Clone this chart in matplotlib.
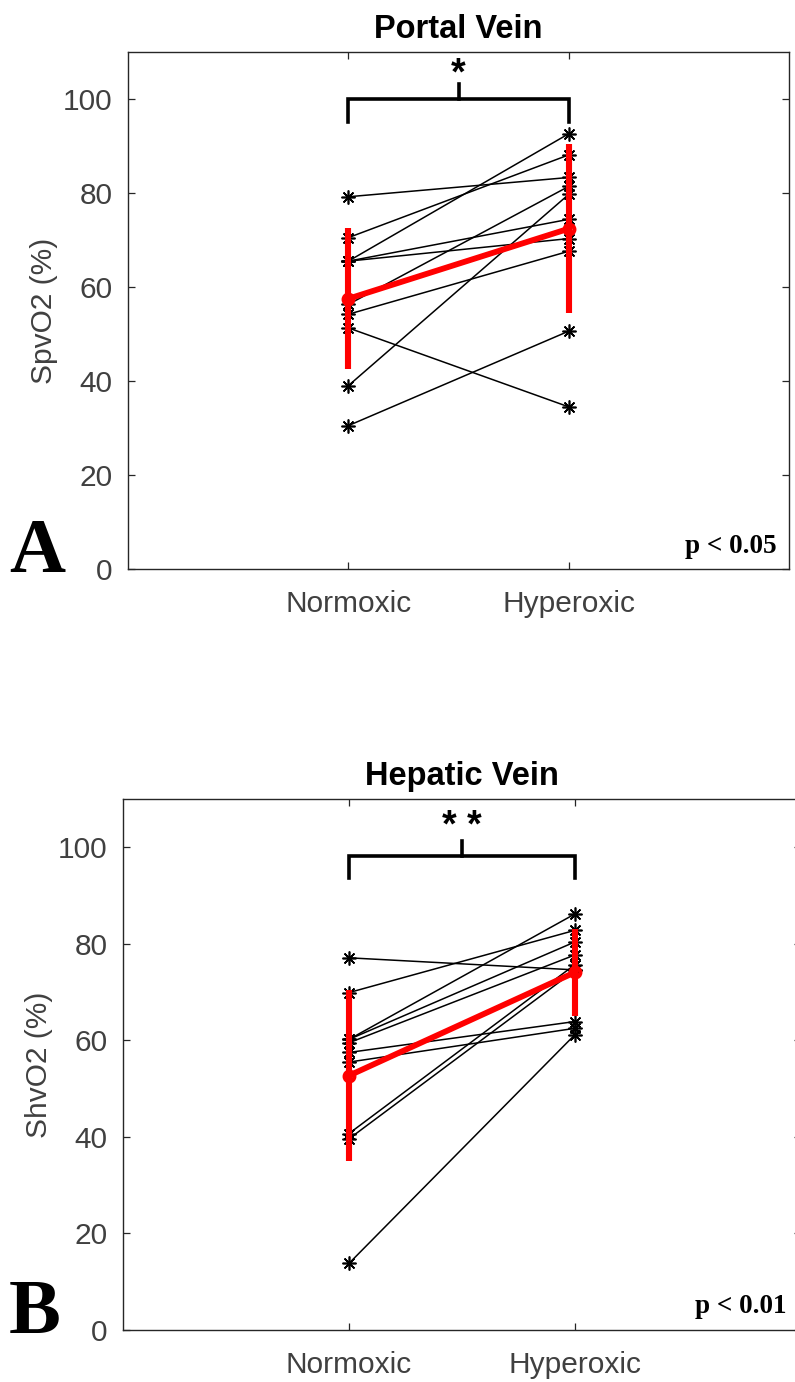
import matplotlib
matplotlib.use("Agg")
import matplotlib.pyplot as plt
import numpy as np

conditions = ["Normoxic", "Hyperoxic"]
yticks = [0, 20, 40, 60, 80, 100]

# Panel A: portal vein SpvO2 (%), per subject
portal_normoxic = [79.2, 70.5, 65.5, 65.5, 65.5, 56.3, 54.2, 51.3, 39.0, 30.5]
portal_hyperoxic = [83.3, 88.1, 92.6, 74.4, 70.3, 81.4, 67.6, 34.5, 79.7, 50.6]
portal_mean = [57.5, 72.4]
portal_sd = [15.0, 18.0]

# Panel B: hepatic vein ShvO2 (%), per subject
hepatic_normoxic = [77.1, 69.9, 60.2, 60.2, 59.5, 57.5, 55.5, 40.7, 39.6, 13.8]
hepatic_hyperoxic = [74.6, 82.8, 86.2, 80.4, 77.7, 63.9, 62.5, 75.7, 74.5, 61.2]
hepatic_mean = [52.7, 74.1]
hepatic_sd = [17.7, 9.0]

panels = [
    dict(title="Portal Vein", ylabel="SpvO2 (%)", n=portal_normoxic, h=portal_hyperoxic,
         mean=portal_mean, sd=portal_sd, letter="A", ptext="p < 0.05", star="*",
         bracket=(100, 95.2, 103.2), star_y=101.3,
         letter_x=-0.18, ylab_x=-0.106, p_x=0.982, p_y=0.031,
         rect=[128/795, 1 - 569/1382, 661/795, 517/1382]),
    dict(title="Hepatic Vein", ylabel="ShvO2 (%)", n=hepatic_normoxic, h=hepatic_hyperoxic,
         mean=hepatic_mean, sd=hepatic_sd, letter="B", ptext="p < 0.01", star="* *",
         bracket=(98.1, 93.7, 101.2), star_y=100.4,
         letter_x=-0.169, ylab_x=-0.103, p_x=0.979, p_y=0.032,
         rect=[123/795, 1 - 1330/1382, 678/795, 531/1382]),
]

fig = plt.figure(figsize=(7.95, 13.82), dpi=100)
gray = "#262626"
x = np.array([1, 2])
ast = (8, 2, 0)

for p in panels:
    ax = fig.add_axes(p["rect"])
    for a, b in zip(p["n"], p["h"]):
        ax.plot(x, [a, b], color="black", lw=1.1, marker=ast, markersize=10,
                markeredgewidth=1.2, zorder=2)
    ax.errorbar(x, p["mean"], yerr=p["sd"], color="#ff0000", lw=4.2, elinewidth=4.4,
                capsize=0, marker="o", markersize=7, markeredgewidth=3,
                markerfacecolor="none", zorder=3)
    y0, yleg, ytop = p["bracket"]
    ax.plot([1, 1, 2, 2], [yleg, y0, y0, yleg], color="black", lw=2.6,
            solid_joinstyle="miter", clip_on=False, zorder=4)
    ax.plot([1.5, 1.5], [y0, ytop], color="black", lw=2.6, clip_on=False, zorder=4)
    ax.text(1.5, p["star_y"], p["star"], ha="center", va="bottom", fontsize=27,
            fontweight="bold", family="Liberation Sans")
    ax.set_xlim(0, 3)
    ax.set_ylim(0, 110)
    ax.set_xticks(x)
    ax.set_xticklabels(conditions)
    ax.set_yticks(yticks)
    ax.tick_params(direction="in", length=5, width=0.9, colors=gray, labelsize=21.5,
                   top=True, right=True)
    ax.tick_params(axis="y", pad=11)
    ax.tick_params(axis="x", pad=15)
    for lab in ax.get_xticklabels() + ax.get_yticklabels():
        lab.set_family("Liberation Sans")
        lab.set_color("#404040")
    for s in ax.spines.values():
        s.set_color(gray)
        s.set_linewidth(1.0)
    ax.set_title(p["title"], fontsize=23.5, fontweight="bold", family="Liberation Sans",
                 pad=10)
    ax.set_ylabel(p["ylabel"], fontsize=21.5, family="Liberation Sans", color="#404040")
    ax.yaxis.set_label_coords(p["ylab_x"], 0.5)
    ax.text(p["p_x"], p["p_y"], p["ptext"], transform=ax.transAxes, ha="right",
            va="baseline", fontsize=19.5, fontweight="bold", family="Liberation Serif")
    ax.text(p["letter_x"], -0.006, p["letter"], transform=ax.transAxes, ha="left",
            va="baseline", fontsize=56, fontweight="bold", family="Liberation Serif")

fig.savefig("out.png", dpi=100)
